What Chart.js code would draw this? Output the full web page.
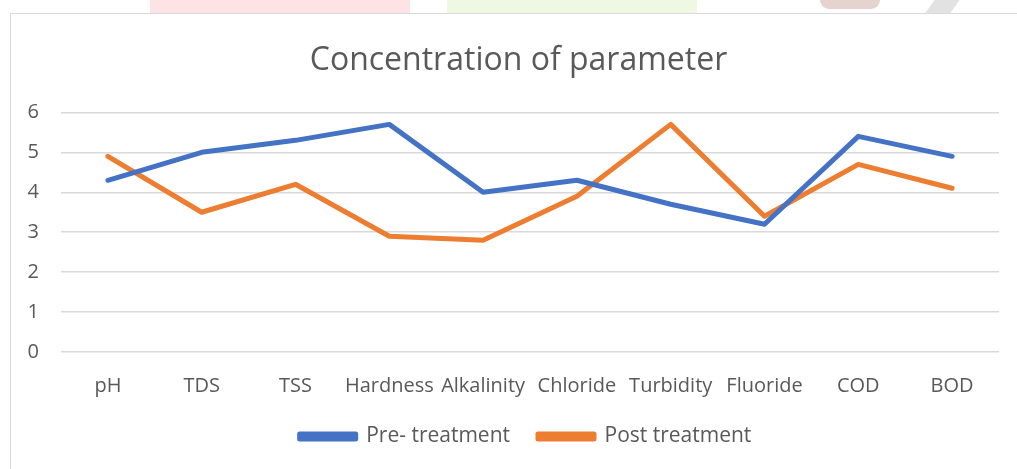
<!DOCTYPE html>
<html>
<head>
<meta charset="utf-8">
<script src="https://cdn.jsdelivr.net/npm/chart.js@4/dist/chart.umd.min.js"></script>
<style>
  html, body { margin: 0; padding: 0; background: #ffffff; }
  #wrap { position: relative; width: 1017px; height: 469px; overflow: hidden; }
  #frame { position: absolute; left: 10px; top: 13px; width: 1010px; height: 470px; border: 1px solid #d9d9d9; box-sizing: border-box; }
  .wm { position: absolute; top: 0; height: 13px; }
  canvas { position: absolute; left: 0; top: 0; }
</style>
</head>
<body>
<div id="wrap">
  <div class="wm" style="left:150px;width:260px;background:#fde3e3;"></div>
  <div class="wm" style="left:447px;width:250px;background:#eef8e3;"></div>
  <div class="wm" style="left:820px;width:60px;height:9px;background:#e5d3d0;border-radius:0 0 30px 30px;"></div>
  <div class="wm" style="left:930px;width:25px;height:13px;background:#e2e2e2;transform:skewX(-35deg);"></div>
  <div id="frame"></div>
  <canvas id="c" width="1017" height="469"></canvas>
</div>
<script>
const categories = ["pH", "TDS", "TSS", "Hardness", "Alkalinity", "Chloride", "Turbidity", "Fluoride", "COD", "BOD"];
const preTreatment = [4.3, 5.0, 5.3, 5.7, 4.0, 4.3, 3.7, 3.2, 5.4, 4.9];
const postTreatment = [4.9, 3.5, 4.2, 2.9, 2.8, 3.9, 5.7, 3.4, 4.7, 4.1];
const seriesNames = ["Pre- treatment", "Post treatment"];
const chartTitle = "Concentration of parameter";

const textColor = "#595959";
const font = "'Open Sans', sans-serif";

const boxTweakPlugin = {
  id: 'boxTweak',
  beforeInit(chart) {
    const orig = chart.legend.fit;
    chart.legend.fit = function () {
      orig.call(this);
      this.height = 62;
    };
  },
  afterLayout(chart) {
    const lg = chart.legend;
    lg.left += 16; lg.right += 16;
    lg.top -= 9; lg.bottom -= 9;
    const tb = chart.titleBlock;
    if (tb) { tb.left += 9; tb.right += 9; }
  }
};

new Chart(document.getElementById('c'), {
  type: 'line',
  data: {
    labels: categories,
    datasets: [
      {
        label: seriesNames[0],
        data: preTreatment,
        borderColor: '#4472C4',
        backgroundColor: '#4472C4',
        borderWidth: 5,
        pointRadius: 0,
        pointHoverRadius: 0,
        tension: 0,
        borderCapStyle: 'round',
        borderJoinStyle: 'round'
      },
      {
        label: seriesNames[1],
        data: postTreatment,
        borderColor: '#ED7D31',
        backgroundColor: '#ED7D31',
        borderWidth: 5,
        pointRadius: 0,
        pointHoverRadius: 0,
        tension: 0,
        borderCapStyle: 'round',
        borderJoinStyle: 'round'
      }
    ]
  },
  options: {
    responsive: false,
    animation: false,
    devicePixelRatio: 1,
    layout: { padding: { left: 20, right: 18, top: 0, bottom: 0 } },
    plugins: {
      title: {
        display: true,
        text: chartTitle,
        color: textColor,
        font: { family: font, size: 32, weight: 'normal' },
        padding: { top: 42, bottom: 32 }
      },
      legend: {
        display: true,
        position: 'bottom',
        labels: {
          color: textColor,
          font: { family: font, size: 21 },
          boxWidth: 56,
          boxHeight: 5,
          padding: 28
        }
      },
      tooltip: { enabled: false }
    },
    scales: {
      x: {
        offset: true,
        grid: { display: false, drawTicks: false },
        border: { display: false },
        ticks: {
          color: textColor,
          font: { family: font, size: 20 },
          padding: 22,
          maxRotation: 0,
          autoSkip: false
        },
        afterFit(scale) { scale.height = 55; }
      },
      y: {
        min: 0,
        max: 6,
        grid: { color: '#d9d9d9', lineWidth: 1.5, drawTicks: false },
        border: { display: false },
        ticks: {
          stepSize: 1,
          color: textColor,
          font: { family: font, size: 20 },
          padding: 22
        },
        afterFit(scale) { scale.width = 41; }
      }
    }
  },
  plugins: [boxTweakPlugin]
});
</script>
</body>
</html>
